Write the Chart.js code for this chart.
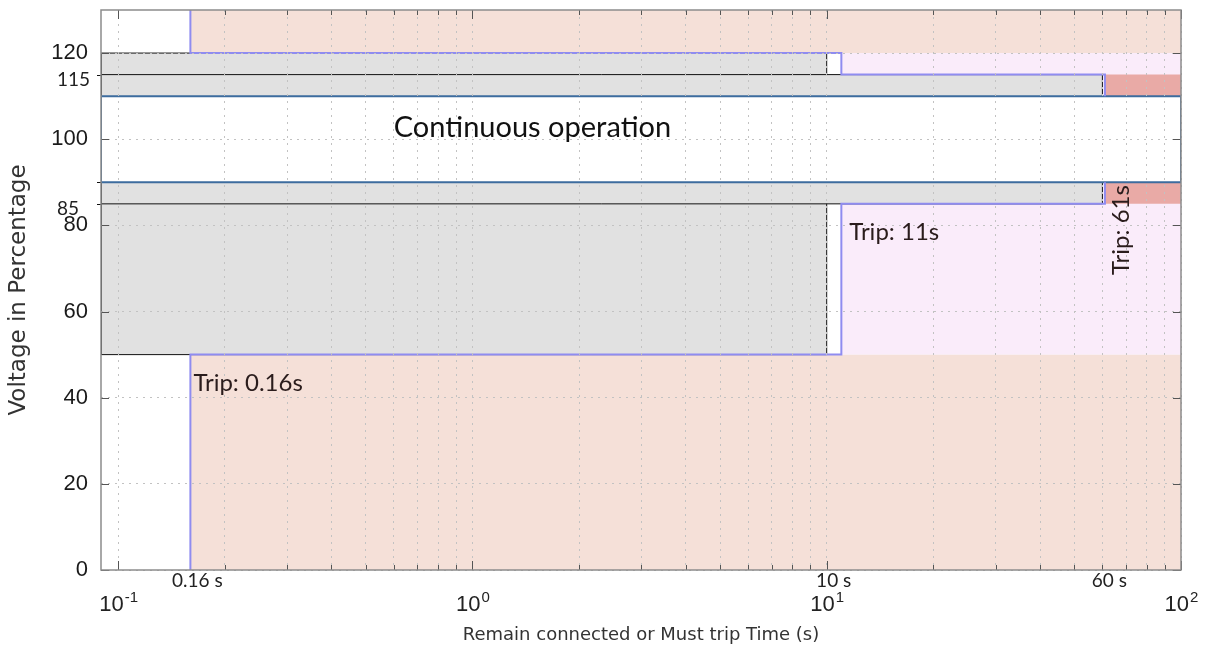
<!DOCTYPE html>
<html>
<head>
<meta charset="utf-8">
<title>Voltage ride-through curve</title>
<script src="https://cdn.jsdelivr.net/npm/chart.js@4"></script>
<style>
  html, body { margin: 0; padding: 0; background: #fff; }
  #wrap { width: 1208px; height: 648px; }
</style>
</head>
<body>
<div id="wrap"><canvas id="chart"></canvas></div>
<script>
// ── Axis ranges and ticks
const xMin = 0.0895, xMax = 100;
const yMin = 0, yMax = 130;
const xDecades   = [0.1, 1, 10, 100];
const xDecadeExp = ['-1', '0', '1', '2'];
const yTicks      = [0, 20, 40, 60, 80, 100, 120];
const yExtraTicks = [115, 85];

// ── Curve steps
const tripTimes      = [0.16, 11, 61];   // must trip after (s)
const connectTimes   = [10, 60];         // remain connected up to (s)
const timeMarks      = [0.16, 10, 60];
const timeMarkLabels = ['0.16 s', '10 s', '60 s'];
const lowSteps       = [50, 85];         // lower voltage limits (%)
const highSteps      = [120, 115];       // upper voltage limits (%)
const continuousBand = [90, 110];

// ── Helpers
function rect(x0, x1, y0, y1) {
  return [{ x: x0, y: y0 }, { x: x1, y: y0 }, { x: x1, y: y1 }, { x: x0, y: y1 }, { x: x0, y: y0 }];
}

function zone(data, fill, border, width, order) {
  return {
    data, order,
    showLine: true,
    fill: fill ? 'shape' : false,
    backgroundColor: fill || 'rgba(0,0,0,0)',
    borderColor: border || 'rgba(0,0,0,0)',
    borderWidth: width || 0.01,
    borderJoinStyle: 'miter',
    pointRadius: 0,
    tension: 0
  };
}

const xGridValues = [];
xDecades.forEach(d => {
  for (let k = 1; k <= 9; k++) {
    const v = +(d * k).toPrecision(3);
    if (v >= xMin && v <= xMax) xGridValues.push(v);
  }
});

const lowerTrip = [
  { x: tripTimes[0], y: yMin },         { x: tripTimes[0], y: lowSteps[0] },
  { x: tripTimes[1], y: lowSteps[0] },  { x: tripTimes[1], y: lowSteps[1] },
  { x: tripTimes[2], y: lowSteps[1] },  { x: tripTimes[2], y: continuousBand[0] }
];
const upperTrip = [
  { x: tripTimes[0], y: yMax },         { x: tripTimes[0], y: highSteps[0] },
  { x: tripTimes[1], y: highSteps[0] }, { x: tripTimes[1], y: highSteps[1] },
  { x: tripTimes[2], y: highSteps[1] }, { x: tripTimes[2], y: continuousBand[1] }
];

const datasets = [
  zone(lowerTrip, null, '#8f8cf0', 2, 1),
  zone(upperTrip, null, '#8f8cf0', 2, 1),
  zone(rect(xMin, xMax, continuousBand[0], continuousBand[1]), '#ffffff', '#3d6c9e', 2, 2),
  zone(rect(xMin, connectTimes[1], lowSteps[1], highSteps[1]), '#e1e1e1', '#111111', 1, 3),
  zone(rect(xMin, connectTimes[0], lowSteps[0], highSteps[0]), '#e1e1e1', '#111111', 1, 4),
  zone(rect(tripTimes[2], xMax, lowSteps[1], highSteps[1]), '#e9aaa6', null, 0, 5),
  zone(rect(tripTimes[1], xMax, lowSteps[0], highSteps[0]), '#faecfa', null, 0, 6),
  zone(rect(tripTimes[0], xMax, yMin, lowSteps[0]), '#f5e0d8', null, 0, 7),
  zone(rect(tripTimes[0], xMax, highSteps[0], yMax), '#f5e0d8', null, 0, 7)
];

// ── Frame, inner ticks, exponent labels and annotations
const decorPlugin = {
  id: 'decor',
  afterDraw(chart) {
    const { ctx, chartArea: a, scales: { x, y } } = chart;
    ctx.save();

    // inward tick marks
    ctx.strokeStyle = '#555';
    ctx.lineWidth = 1;
    ctx.beginPath();
    xGridValues.forEach(v => {
      const px = Math.round(x.getPixelForValue(v)) + 0.5;
      const len = xDecades.includes(v) ? 9 : 5;
      ctx.moveTo(px, a.bottom); ctx.lineTo(px, a.bottom - len);
      ctx.moveTo(px, a.top);    ctx.lineTo(px, a.top + len);
    });
    yTicks.forEach(v => {
      const py = Math.round(y.getPixelForValue(v)) + 0.5;
      ctx.moveTo(a.left, py);  ctx.lineTo(a.left + 8, py);
      ctx.moveTo(a.right, py); ctx.lineTo(a.right - 8, py);
    });
    ctx.stroke();

    // short outer ticks at the zone edges
    ctx.strokeStyle = '#111';
    ctx.beginPath();
    [highSteps[1], continuousBand[0], lowSteps[1]].forEach(v => {
      const py = Math.round(y.getPixelForValue(v)) + 0.5;
      ctx.moveTo(a.left - 4, py); ctx.lineTo(a.left, py);
    });
    ctx.stroke();

    // frame
    ctx.strokeStyle = '#8c8c8c';
    ctx.lineWidth = 1.5;
    ctx.strokeRect(a.left, a.top, a.right - a.left, a.bottom - a.top);

    // decade labels 10^n
    ctx.fillStyle = '#222';
    ctx.textBaseline = 'alphabetic';
    xDecades.forEach((d, i) => {
      ctx.font = '22px "Liberation Sans", Arial, sans-serif';
      const wBase = ctx.measureText('10').width;
      ctx.font = '15px "Liberation Sans", Arial, sans-serif';
      const wExp = ctx.measureText(xDecadeExp[i]).width;
      const left = x.getPixelForValue(d) - (wBase + wExp) / 2;
      ctx.textAlign = 'left';
      ctx.font = '22px "Liberation Sans", Arial, sans-serif';
      ctx.fillText('10', left, 611);
      ctx.font = '15px "Liberation Sans", Arial, sans-serif';
      ctx.fillText(xDecadeExp[i], left + wBase + 1, 602);
    });

    // time marks under the axis
    ctx.font = '19px Lato, "Open Sans", sans-serif';
    ctx.textAlign = 'center';
    ctx.fillStyle = '#222';
    timeMarks.forEach((t, i) => {
      ctx.fillText(timeMarkLabels[i], x.getPixelForValue(t) + 7, 587);
    });

    // extra voltage marks
    ctx.font = '19px Lato, "Open Sans", sans-serif';
    ctx.textAlign = 'left';
    yExtraTicks.forEach(v => {
      ctx.fillText(String(v), 57, y.getPixelForValue(v) + 11);
    });

    // zone annotations
    ctx.fillStyle = '#111';
    ctx.font = '29px Lato, "Open Sans", sans-serif';
    ctx.fillText('Continuous operation', x.getPixelForValue(0.6), y.getPixelForValue(100) - 2);

    ctx.fillStyle = '#2a1c1c';
    ctx.font = '24px Lato, "Open Sans", sans-serif';
    ctx.fillText('Trip: 0.16s', x.getPixelForValue(tripTimes[0]) + 3, y.getPixelForValue(lowSteps[0]) + 36);
    ctx.fillText('Trip: 11s', x.getPixelForValue(tripTimes[1]) + 8, y.getPixelForValue(lowSteps[1]) + 36);

    ctx.translate(x.getPixelForValue(tripTimes[2]) + 24, y.getPixelForValue(68.5));
    ctx.rotate(-Math.PI / 2);
    ctx.fillText('Trip: 61s', 0, 0);

    ctx.restore();
  }
};

new Chart(document.getElementById('chart'), {
  type: 'scatter',
  data: { datasets },
  plugins: [decorPlugin],
  options: {
    responsive: true,
    maintainAspectRatio: false,
    animation: false,
    layout: { padding: { top: 10, right: 27, left: 0, bottom: 0 } },
    plugins: { legend: { display: false }, tooltip: { enabled: false } },
    scales: {
      x: {
        type: 'logarithmic',
        min: xMin, max: xMax,
        afterBuildTicks: s => { s.ticks = xGridValues.map(v => ({ value: v })); },
        afterFit: s => { s.height = 78; s.paddingLeft = 0; s.paddingRight = 0; },
        ticks: { display: false },
        grid: { color: '#c2c2c2', lineWidth: 1, drawTicks: false, z: 1 },
        border: { display: false, dash: [2, 5] },
        title: {
          display: true,
          text: 'Remain connected or Must trip Time (s)',
          color: '#333',
          font: { family: '"DejaVu Sans", sans-serif', size: 18 },
          padding: { top: 0, bottom: 2 }
        }
      },
      y: {
        type: 'linear',
        min: yMin, max: yMax,
        afterBuildTicks: s => { s.ticks = yTicks.map(v => ({ value: v })); },
        afterFit: s => { s.width = 101; s.paddingTop = 0; s.paddingBottom = 0; },
        ticks: {
          color: '#1a1a1a',
          padding: 13,
          font: { family: '"Liberation Sans", Arial, sans-serif', size: 22 }
        },
        grid: { color: '#c2c2c2', lineWidth: 1, drawTicks: false, z: 1 },
        border: { display: false, dash: [2, 5] },
        title: {
          display: true,
          text: 'Voltage in Percentage',
          color: '#333',
          font: { family: '"DejaVu Sans", sans-serif', size: 23 },
          padding: { top: 5, bottom: 0 }
        }
      }
    }
  }
});
</script>
</body>
</html>
